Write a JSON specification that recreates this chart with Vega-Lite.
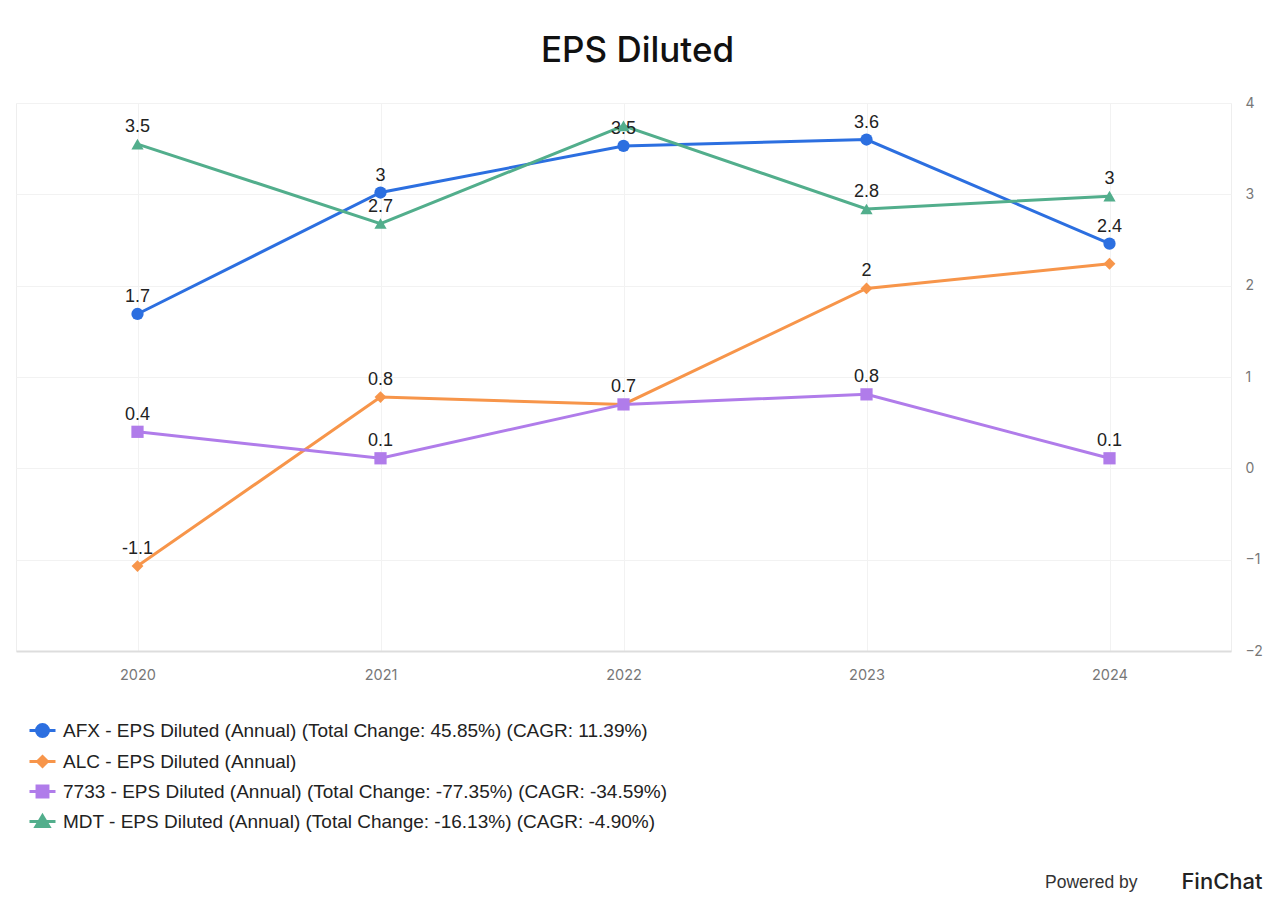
{
  "$schema": "https://vega.github.io/schema/vega-lite/v6.json",
  "autosize": "none",
  "width": 1215,
  "height": 548,
  "padding": {"left": 16, "top": 103, "right": 49, "bottom": 256},
  "background": "white",
  "title": {
    "text": "EPS Diluted",
    "fontSize": 35,
    "font": "Inter",
    "fontWeight": 500,
    "color": "#111111",
    "anchor": "middle",
    "baseline": "alphabetic",
    "offset": -1,
    "dx": 14
  },
  "config": {
    "view": {"stroke": "#eeeeee", "strokeWidth": 1},
    "font": "Liberation Sans",
    "legend": {
      "title": null, "orient": "none", "legendX": 12, "legendY": 613,
      "direction": "vertical", "padding": 0,
      "symbolSize": 676, "symbolStrokeWidth": 3, "symbolOpacity": 1,
      "labelFont": "Liberation Sans", "labelFontSize": 19, "labelColor": "#222222",
      "labelOffset": 6, "rowPadding": 4, "labelLimit": 1000
    }
  },
  "data": {
    "values": [
      {"year": "2020", "series": "AFX - EPS Diluted (Annual) (Total Change: 45.85%) (CAGR: 11.39%)", "value": 1.69, "label": "1.7"},
      {"year": "2021", "series": "AFX - EPS Diluted (Annual) (Total Change: 45.85%) (CAGR: 11.39%)", "value": 3.02, "label": "3"},
      {"year": "2022", "series": "AFX - EPS Diluted (Annual) (Total Change: 45.85%) (CAGR: 11.39%)", "value": 3.53, "label": "3.5"},
      {"year": "2023", "series": "AFX - EPS Diluted (Annual) (Total Change: 45.85%) (CAGR: 11.39%)", "value": 3.6, "label": "3.6"},
      {"year": "2024", "series": "AFX - EPS Diluted (Annual) (Total Change: 45.85%) (CAGR: 11.39%)", "value": 2.46, "label": "2.4"},
      {"year": "2020", "series": "ALC - EPS Diluted (Annual)", "value": -1.07, "label": "-1.1"},
      {"year": "2021", "series": "ALC - EPS Diluted (Annual)", "value": 0.78, "label": "0.8"},
      {"year": "2022", "series": "ALC - EPS Diluted (Annual)", "value": 0.7, "label": null},
      {"year": "2023", "series": "ALC - EPS Diluted (Annual)", "value": 1.97, "label": "2"},
      {"year": "2024", "series": "ALC - EPS Diluted (Annual)", "value": 2.24, "label": null},
      {"year": "2020", "series": "7733 - EPS Diluted (Annual) (Total Change: -77.35%) (CAGR: -34.59%)", "value": 0.4, "label": "0.4"},
      {"year": "2021", "series": "7733 - EPS Diluted (Annual) (Total Change: -77.35%) (CAGR: -34.59%)", "value": 0.11, "label": "0.1"},
      {"year": "2022", "series": "7733 - EPS Diluted (Annual) (Total Change: -77.35%) (CAGR: -34.59%)", "value": 0.7, "label": "0.7"},
      {"year": "2023", "series": "7733 - EPS Diluted (Annual) (Total Change: -77.35%) (CAGR: -34.59%)", "value": 0.81, "label": "0.8"},
      {"year": "2024", "series": "7733 - EPS Diluted (Annual) (Total Change: -77.35%) (CAGR: -34.59%)", "value": 0.11, "label": "0.1"},
      {"year": "2020", "series": "MDT - EPS Diluted (Annual) (Total Change: -16.13%) (CAGR: -4.90%)", "value": 3.55, "label": "3.5"},
      {"year": "2021", "series": "MDT - EPS Diluted (Annual) (Total Change: -16.13%) (CAGR: -4.90%)", "value": 2.68, "label": "2.7"},
      {"year": "2022", "series": "MDT - EPS Diluted (Annual) (Total Change: -16.13%) (CAGR: -4.90%)", "value": 3.75, "label": null},
      {"year": "2023", "series": "MDT - EPS Diluted (Annual) (Total Change: -16.13%) (CAGR: -4.90%)", "value": 2.84, "label": "2.8"},
      {"year": "2024", "series": "MDT - EPS Diluted (Annual) (Total Change: -16.13%) (CAGR: -4.90%)", "value": 2.98, "label": "3"}
    ]
  },
  "encoding": {
    "x": {"field": "year", "type": "ordinal", "scale": {"paddingInner": 0, "paddingOuter": 0}, "axis": null},
    "y": {
      "field": "value", "type": "quantitative",
      "scale": {"domain": [-2, 4], "nice": false, "zero": false},
      "axis": {
        "orient": "right", "title": null, "values": [-2, -1, 0, 1, 2, 3, 4],
        "domain": false, "ticks": false, "labelPadding": 14, "labelAlign": "left",
        "labelFont": "Inter", "labelFontSize": 14, "labelColor": "#777777",
        "gridColor": "#f2f2f2", "gridWidth": 1
      }
    },
    "color": {
      "field": "series", "type": "nominal",
      "scale": {
        "domain": [
          "AFX - EPS Diluted (Annual) (Total Change: 45.85%) (CAGR: 11.39%)",
          "ALC - EPS Diluted (Annual)",
          "7733 - EPS Diluted (Annual) (Total Change: -77.35%) (CAGR: -34.59%)",
          "MDT - EPS Diluted (Annual) (Total Change: -16.13%) (CAGR: -4.90%)"
        ],
        "range": ["#2c6fe0", "#f7954a", "#b07cea", "#52ae8c"]
      }
    }
  },
  "layer": [
    {
      "mark": {"type": "line", "strokeWidth": 3},
      "encoding": {
        "x": {
          "field": "year", "type": "ordinal",
          "axis": {
            "orient": "bottom",
            "title": "Powered by", "titleFont": "Liberation Sans", "titleFontSize": 17.5,
            "titleFontWeight": "normal", "titleColor": "#333333",
            "titleAlign": "right", "titleAnchor": null, "titleBaseline": "middle",
            "titleX": 1121, "titleY": 231, "titleAngle": 0,
            "grid": false, "ticks": false, "labelAngle": 0, "labelPadding": 17,
            "labelFont": "Inter", "labelFontSize": 14.5, "labelColor": "#777777",
            "domainColor": "#dddddd", "domainWidth": 2
          }
        }
      }
    },
    {
      "transform": [{"filter": "isValid(datum.label)"}],
      "mark": {"type": "text", "dy": -17, "fontSize": 18, "font": "Liberation Sans", "color": "#222222", "baseline": "middle"},
      "encoding": {"text": {"field": "label"}, "color": {"value": "#222222"}}
    },
    {
      "transform": [{"filter": "datum.series == 'AFX - EPS Diluted (Annual) (Total Change: 45.85%) (CAGR: 11.39%)'"}],
      "mark": {"type": "point", "shape": "circle", "filled": true, "opacity": 1, "size": 150},
      "encoding": {
        "x": {
          "field": "year", "type": "ordinal",
          "axis": {
            "orient": "bottom",
            "title": "FinChat", "titleFont": "Inter", "titleFontSize": 22,
            "titleFontWeight": 500, "titleColor": "#222222",
            "titleAlign": "right", "titleAnchor": null, "titleBaseline": "middle",
            "titleX": 1246, "titleY": 230, "titleAngle": 0,
            "grid": true, "bandPosition": 0, "gridColor": "#f2f2f2",
            "labels": false, "ticks": false, "domain": false
          }
        }
      }
    },
    {
      "transform": [{"filter": "datum.series == 'ALC - EPS Diluted (Annual)'"}],
      "mark": {"type": "point", "shape": "diamond", "filled": true, "opacity": 1, "size": 140}
    },
    {
      "transform": [{"filter": "datum.series == '7733 - EPS Diluted (Annual) (Total Change: -77.35%) (CAGR: -34.59%)'"}],
      "mark": {"type": "point", "shape": "square", "filled": true, "opacity": 1, "size": 150}
    },
    {
      "transform": [{"filter": "datum.series == 'MDT - EPS Diluted (Annual) (Total Change: -16.13%) (CAGR: -4.90%)'"}],
      "mark": {"type": "point", "shape": "triangle-up", "filled": true, "opacity": 1, "size": 150}
    },
    {
      "transform": [{"filter": "datum.year == 'none'"}],
      "mark": {"type": "point", "filled": true, "opacity": 1},
      "encoding": {
        "shape": {
          "field": "series", "type": "nominal",
          "scale": {
            "domain": [
              "AFX - EPS Diluted (Annual) (Total Change: 45.85%) (CAGR: 11.39%)",
              "ALC - EPS Diluted (Annual)",
              "7733 - EPS Diluted (Annual) (Total Change: -77.35%) (CAGR: -34.59%)",
              "MDT - EPS Diluted (Annual) (Total Change: -16.13%) (CAGR: -4.90%)"
            ],
            "range": [
              "M-1,0H1M-0.46,0A0.46,0.46 0 1,0 0.46,0A0.46,0.46 0 1,0 -0.46,0Z",
              "M-1,0H1M0,-0.38L0.38,0L0,0.38L-0.38,0Z",
              "M-1,0H1M-0.42,-0.42H0.42V0.42H-0.42Z",
              "M-1,0H1M0,-0.45L0.5,0.38H-0.5Z"
            ]
          },
          "legend": {
            "encode": {
              "symbols": {
                "update": {
                  "stroke": {"scale": "color", "field": "value"},
                  "strokeWidth": {"value": 3}
                }
              }
            }
          }
        }
      }
    }
  ],
  "resolve": {"axis": {"x": "independent"}}
}
